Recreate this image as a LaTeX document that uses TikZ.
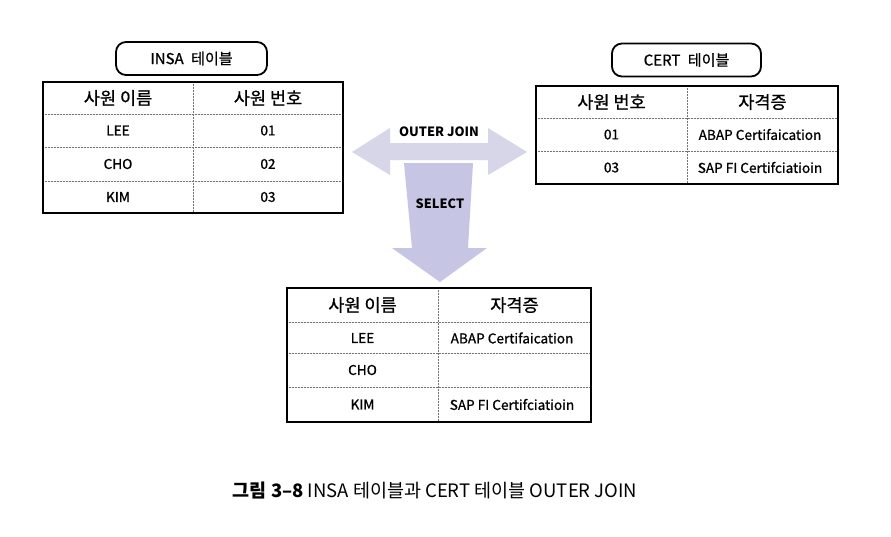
\documentclass[tikz,border=0pt]{standalone}
\usepackage{fontspec}
\setmainfont{Noto Sans CJK KR}
\newfontfamily\medf{Noto Sans CJK KR}[FakeBold=0.9]
\begin{document}
\begin{tikzpicture}[x=1pt,y=-1pt,
  titlebox/.style={draw=black,line width=1.8pt,rounded corners=10pt,minimum width=#1,minimum height=33pt,inner sep=0pt,font=\medf\fontsize{15}{15}\selectfont},
  hdr/.style={font=\medf\fontsize{17.5}{18}\selectfont,inner sep=0pt},
  cell/.style={font=\medf\fontsize{13.6}{14}\selectfont,inner sep=0pt},
  outer/.style={draw=black,line width=1.6pt},
  inner/.style={draw=black!55,line width=0.5pt,densely dotted},
  lbl/.style={font=\bfseries\fontsize{12.8}{13}\selectfont,inner sep=1pt}
]
\definecolor{arrH}{RGB}{214,214,232}
\definecolor{arrV}{RGB}{198,198,228}
\useasboundingbox (0,0) rectangle (891,536);
\fill[white] (0,0) rectangle (891,536);

% ---- INSA title and table
\node[titlebox=151pt] (insaT) at (191.5,58.5) {INSA\enspace 테이블};
\draw[inner] (43,114) -- (343,114) (43,147) -- (343,147) (43,181) -- (343,181) (193,82) -- (193,213);
\draw[outer] (43,82) rectangle (343,213);
\node[hdr] (i11) at (118,98) {사원 이름};
\node[hdr] (i12) at (268,98) {사원 번호};
\node[cell] (i21) at (118,130.5) {LEE};
\node[cell] (i22) at (268,130.5) {01};
\node[cell] (i31) at (118,164) {CHO};
\node[cell] (i32) at (268,164) {02};
\node[cell] (i41) at (118,197) {KIM};
\node[cell] (i42) at (268,197) {03};

% ---- CERT title and table
\node[titlebox=149pt] (certT) at (686.5,60) {CERT\enspace 테이블};
\draw[inner] (536,118) -- (838,118) (536,151) -- (838,151) (687,86) -- (687,184);
\draw[outer] (536,86) rectangle (838,184);
\node[hdr] (c11) at (611.5,102) {사원 번호};
\node[hdr] (c12) at (762.5,102) {자격증};
\node[cell] (c21) at (611.5,134.5) {01};
\node[cell] (c22) at (760,134.5) {ABAP Certifaication};
\node[cell] (c31) at (611.5,167.5) {03};
\node[cell] (c32) at (760,167.5) {SAP FI Certifciatioin};

% ---- arrows
\fill[arrH] (352,152) -- (390,128) -- (390,143) -- (488,143) -- (488,128) -- (527,152)
  -- (488,175) -- (488,160) -- (390,160) -- (390,175) -- cycle;
\node[lbl,fill=white,minimum width=94pt,minimum height=17pt] (oj) at (439,132) {OUTER JOIN};
\fill[arrV] (404,163) -- (473,163) -- (468,248) -- (487,248) -- (440,282) -- (392,248) -- (412,248) -- cycle;
\node[lbl] (sel) at (440,204) {SELECT};

% ---- result table
\draw[inner] (287,322) -- (591,322) (287,353) -- (591,353) (287,387) -- (591,387) (438,288) -- (438,422);
\draw[outer] (287,288) rectangle (591,422);
\node[hdr] (r11) at (362.5,305) {사원 이름};
\node[hdr] (r12) at (514.5,305) {자격증};
\node[cell] (r21) at (362.5,338) {LEE};
\node[cell] (r22) at (512,338) {ABAP Certifaication};
\node[cell] (r31) at (362.5,370) {CHO};
\node[cell] (r41) at (362.5,404.5) {KIM};
\node[cell] (r42) at (512,404.5) {SAP FI Certifciatioin};

% ---- caption
\node[font=\fontsize{18.5}{19}\selectfont,inner sep=0pt] (cap) at (435,490) {\textbf{그림 3–8} INSA 테이블과 CERT 테이블 OUTER JOIN};
\end{tikzpicture}
\end{document}
